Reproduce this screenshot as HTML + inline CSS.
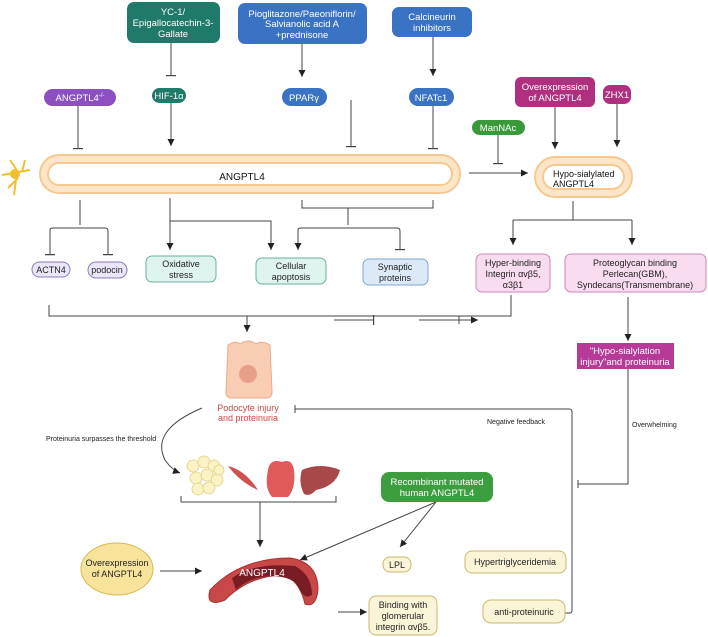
<!DOCTYPE html>
<html><head><meta charset="utf-8"><style>
html,body{margin:0;padding:0;background:#fff;}
svg{display:block;font-family:"Liberation Sans",sans-serif;}
</style></head><body>
<svg width="708" height="637" viewBox="0 0 708 637" xmlns="http://www.w3.org/2000/svg">
<defs>
<marker id="a" markerWidth="8" markerHeight="8" refX="7" refY="4" orient="auto" markerUnits="userSpaceOnUse"><path d="M0,0.5 L7,4 L0,7.5Z" fill="#222"/></marker>
<marker id="t" markerWidth="2" markerHeight="10" refX="1" refY="5" orient="auto" markerUnits="userSpaceOnUse"><rect x="0" y="0" width="1.2" height="10" fill="#444"/></marker>
</defs>
<g stroke="#444" stroke-width="1" fill="none">
<!-- top inputs -->
<line x1="171" y1="43" x2="171" y2="76" marker-end="url(#t)"/>
<line x1="302" y1="44" x2="302" y2="77" marker-end="url(#a)"/>
<line x1="433" y1="37" x2="433" y2="76" marker-end="url(#a)"/>
<line x1="78" y1="106" x2="78" y2="149" marker-end="url(#t)"/>
<line x1="171" y1="103" x2="171" y2="146" marker-end="url(#a)"/>
<line x1="351" y1="100" x2="351" y2="147" marker-end="url(#t)"/>
<line x1="433" y1="106" x2="433" y2="149" marker-end="url(#t)"/>
<line x1="498" y1="135" x2="498" y2="164" marker-end="url(#t)"/>
<line x1="555" y1="107" x2="555" y2="149" marker-end="url(#a)"/>
<line x1="617" y1="104" x2="617" y2="147" marker-end="url(#a)"/>
<line x1="469" y1="173" x2="528" y2="173" marker-end="url(#a)"/>
<!-- below main -->
<path d="M80,200 V225 M50,255 V230 Q50,228 53,228 H105 Q108,228 108,231 V255" />
<line x1="50" y1="240" x2="50" y2="255" marker-end="url(#t)"/>
<line x1="108" y1="240" x2="108" y2="255" marker-end="url(#t)"/>
<line x1="170" y1="198" x2="170" y2="250" marker-end="url(#a)"/>
<path d="M170,221 H271 V250" marker-end="url(#a)"/>
<path d="M302,200 V208 H433 V200 M348,208 V225 M298,250 V230 Q298,228 301,228 H397 Q400,228 400,231 V250"/>
<line x1="298" y1="240" x2="298" y2="250" marker-end="url(#a)"/>
<line x1="400" y1="240" x2="400" y2="250" marker-end="url(#t)"/>
<path d="M573,201 V220 M513,220 H632"/>
<line x1="513" y1="220" x2="513" y2="245" marker-end="url(#a)"/>
<line x1="632" y1="220" x2="632" y2="245" marker-end="url(#a)"/>
<path d="M49,305 V316 H511 V295"/>
<line x1="247" y1="316" x2="247" y2="332" marker-end="url(#a)"/>
<line x1="334" y1="320" x2="374" y2="320" marker-end="url(#t)"/>
<line x1="419" y1="320" x2="478" y2="320" marker-end="url(#a)"/>
<line x1="459" y1="316" x2="459" y2="324"/>
<line x1="628" y1="297" x2="628" y2="341" marker-end="url(#a)"/>
<path d="M628,369 V484 H578"/>
<line x1="578" y1="480" x2="578" y2="488"/>
<path d="M565,613 H570 Q572,613 572,610 V412 Q572,409 569,409 H295"/>
<line x1="295" y1="405" x2="295" y2="413"/>
<path d="M202,408 Q150,430 165,460 Q172,470 180,473" marker-end="url(#a)"/>
<path d="M181,496 V502 H336 V496"/>
<line x1="260" y1="502" x2="260" y2="547" marker-end="url(#a)"/>
<line x1="436" y1="502" x2="300" y2="560" marker-end="url(#a)"/>
<line x1="436" y1="502" x2="400" y2="547" marker-end="url(#a)"/>
<line x1="160" y1="571" x2="202" y2="571" marker-end="url(#a)"/>
<line x1="338" y1="612" x2="367" y2="612" marker-end="url(#a)"/>
</g>
<!-- top boxes -->
<g font-size="9.5" text-anchor="middle" fill="#fff">
<rect x="127" y="2" width="93" height="41" rx="7" fill="#1f7a6a"/>
<text x="173" y="15">YC-1/</text><text x="173" y="26">Epigallocatechin-3-</text><text x="173" y="37">Gallate</text>
<rect x="238" y="3" width="129" height="41" rx="7" fill="#3a72c4"/>
<text x="302" y="17">Pioglitazone/Paeoniflorin/</text><text x="302" y="27">Salvianolic acid A</text><text x="302" y="38">+prednisone</text>
<rect x="392" y="7" width="80" height="30" rx="7" fill="#3a72c4"/>
<text x="432" y="20">Calcineurin</text><text x="432" y="31">inhibitors</text>
<rect x="44" y="89" width="72" height="17" rx="8.5" fill="#8c4fc0"/><text x="80" y="101">ANGPTL4<tspan font-size="6" dy="-4">-/-</tspan></text>
<rect x="152" y="88" width="34" height="15" rx="7.5" fill="#1f7a6a"/><text x="169" y="99">HIF-1α</text>
<rect x="282" y="88" width="45" height="18" rx="9" fill="#3a72c4"/><text x="304" y="101">PPARγ</text>
<rect x="409" y="88" width="45" height="18" rx="9" fill="#3a72c4"/><text x="431" y="101">NFATc1</text>
<rect x="515" y="77" width="80" height="30" rx="6" fill="#b0307f"/><text x="555" y="90">Overexpression</text><text x="555" y="101">of ANGPTL4</text>
<rect x="603" y="85" width="28" height="19" rx="7" fill="#b0307f"/><text x="617" y="98">ZHX1</text>
<rect x="472" y="120" width="53" height="15" rx="7.5" fill="#3a9a3a"/><text x="498" y="131">ManNAc</text>
<rect x="577" y="343" width="97" height="26" fill="#b73a98"/><text x="625" y="354">"Hypo-sialylation</text><text x="625" y="365">injury"and proteinuria</text>
<rect x="381" y="472" width="112" height="30" rx="8" fill="#3d9e40"/><text x="437" y="485">Recombinant mutated</text><text x="437" y="496">human ANGPTL4</text>
</g>
<!-- neuron -->
<g stroke="#f0c030" stroke-width="2" fill="none"><path d="M2,175 L30,170 M10,160 L18,172 M8,188 L18,178 M14,195 L16,180 M25,160 L22,172"/></g>
<circle cx="15" cy="174" r="5" fill="#f0c030"/>
<!-- main capsule -->
<rect x="40" y="155" width="420" height="38" rx="19" fill="#fde6c8" stroke="#f6c992" stroke-width="2"/>
<rect x="48" y="163" width="404" height="22" rx="11" fill="#fff" stroke="#f6c992" stroke-width="2"/>
<text x="242" y="180" font-size="10" text-anchor="middle" fill="#111">ANGPTL4</text>
<rect x="535" y="157" width="97" height="40" rx="20" fill="#fde6c8" stroke="#f6c992" stroke-width="2"/>
<rect x="543" y="165" width="81" height="24" rx="12" fill="#fff" stroke="#f6c992" stroke-width="2"/>
<text x="553" y="177" font-size="9" fill="#111">Hypo-sialylated</text><text x="553" y="187" font-size="9" fill="#111">ANGPTL4</text>
<!-- result boxes -->
<g font-size="9" text-anchor="middle" fill="#222">
<rect x="32" y="262" width="38" height="15" rx="7.5" fill="#ece6fa" stroke="#8c7ab8"/><text x="51" y="273">ACTN4</text>
<rect x="88" y="262" width="39" height="16" rx="8" fill="#ece6fa" stroke="#8c7ab8"/><text x="107" y="273">podocin</text>
<rect x="146" y="256" width="70" height="26" rx="6" fill="#dff3ef" stroke="#6ab0a0"/><text x="181" y="267">Oxidative</text><text x="181" y="278">stress</text>
<rect x="256" y="258" width="70" height="26" rx="6" fill="#dff3ef" stroke="#6ab0a0"/><text x="291" y="269">Cellular</text><text x="291" y="280">apoptosis</text>
<rect x="363" y="259" width="65" height="26" rx="6" fill="#dceaf7" stroke="#7fa6cc"/><text x="395" y="270">Synaptic</text><text x="395" y="281">proteins</text>
<rect x="476" y="254" width="74" height="38" rx="6" fill="#f9dcef" stroke="#c98ab5"/><text x="513" y="266">Hyper-binding</text><text x="513" y="277">Integrin  αvβ5,</text><text x="513" y="288">α3β1</text>
<rect x="565" y="254" width="141" height="38" rx="6" fill="#f9dcef" stroke="#c98ab5"/><text x="635" y="266">Proteoglycan binding</text><text x="635" y="277">Perlecan(GBM),</text><text x="635" y="288">Syndecans(Transmembrane)</text>
<rect x="383" y="557" width="28" height="15" rx="7" fill="#fbf5d8" stroke="#c8b870"/><text x="397" y="568">LPL</text>
<rect x="465" y="551" width="101" height="22" rx="7" fill="#fbf5d8" stroke="#c8b870"/><text x="515" y="565">Hypertriglyceridemia</text>
<rect x="369" y="596" width="68" height="39" rx="7" fill="#fbf5d8" stroke="#c8b870"/><text x="403" y="608">Binding with</text><text x="403" y="619">glomerular</text><text x="403" y="630">integrin αvβ5.</text>
<rect x="483" y="600" width="82" height="23" rx="8" fill="#fbf5d8" stroke="#c8b870"/><text x="524" y="615">anti-proteinuric</text>
</g>
<!-- podocyte -->
<path d="M228,345 Q236,340 240,344 Q248,338 256,344 Q262,340 270,345 L272,392 Q272,398 266,398 H232 Q226,398 226,392 Z" fill="#f9cdb3" stroke="#eba98a"/>
<circle cx="248" cy="374" r="9" fill="#e8a08a"/>
<g font-size="9" text-anchor="middle" fill="#d64545"><text x="248" y="411">Podocyte injury</text><text x="248" y="421">and proteinuria</text></g>
<g font-size="7" fill="#222"><text x="487" y="424">Negative feedback</text><text x="632" y="427">Overwhelming</text><text x="46" y="441">Proteinuria surpasses the threshold</text></g>
<!-- organs -->
<g fill="#fbf3c6" stroke="#e0d080" stroke-width="0.8">
<circle cx="193" cy="466" r="6"/><circle cx="204" cy="462" r="6"/><circle cx="214" cy="466" r="6"/><circle cx="196" cy="478" r="6"/><circle cx="207" cy="475" r="6"/><circle cx="217" cy="480" r="6"/><circle cx="198" cy="489" r="6"/><circle cx="209" cy="488" r="6"/><circle cx="219" cy="470" r="5"/>
</g>
<path d="M228,466 Q245,470 258,490 Q240,482 228,466Z" fill="#d05050"/>
<path d="M268,470 Q270,458 282,462 Q292,458 294,470 Q296,488 288,497 H272 Q264,488 268,470Z" fill="#e05a5a"/>
<path d="M302,470 Q320,462 340,470 Q336,486 316,490 Q310,497 304,494 Q298,482 302,470Z" fill="#a84848"/>
<!-- vessel -->
<path d="M210,590 Q240,558 290,558 Q318,562 318,590 Q316,608 305,604 Q300,582 285,575 Q250,575 225,600 Q205,608 210,590Z" fill="#c84848" stroke="#a83030"/>
<path d="M232,578 Q255,562 295,566 Q312,575 312,595 Q305,600 300,590 Q295,576 270,576 Q248,578 236,590Z" fill="#7a1c24"/>
<text x="262" y="576" font-size="10" text-anchor="middle" fill="#fff">ANGPTL4</text>
<ellipse cx="117" cy="569" rx="36" ry="26" fill="#f8e39a" stroke="#d8b850"/>
<g font-size="9" text-anchor="middle" fill="#222"><text x="117" y="566">Overexpression</text><text x="117" y="577">of ANGPTL4</text></g>
</svg>
</body></html>
